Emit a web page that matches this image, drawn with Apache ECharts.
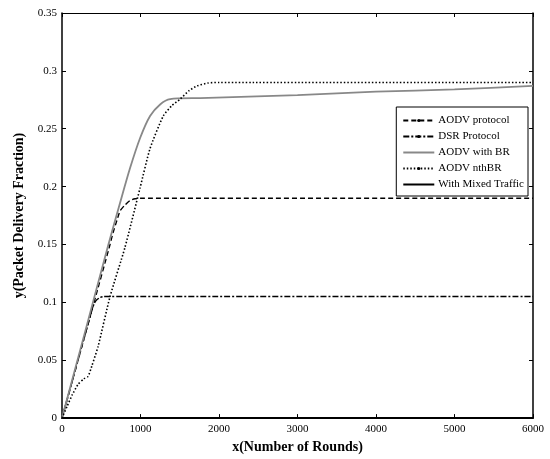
<!DOCTYPE html>
<html>
<head>
<meta charset="utf-8">
<script src="https://cdn.jsdelivr.net/npm/echarts@6/dist/echarts.min.js"></script>
<style>
  html, body { margin: 0; padding: 0; background: #fff; }
  #chart { width: 550px; height: 459px; }
</style>
</head>
<body>
<div id="chart"></div>
<script>
// values (x = rounds, y = packet delivery fraction)
const aodvX = [0, 200, 400, 600, 650, 700, 740, 800, 867, 930, 995, 6000]
const aodvY = [0, 0.049, 0.098, 0.147, 0.160, 0.171, 0.179, 0.184, 0.188, 0.1895, 0.19, 0.19]

const dsrX = [0, 200, 380, 410, 440, 480, 530, 600, 6000]
const dsrY = [0, 0.049, 0.093, 0.099, 0.102, 0.104, 0.105, 0.105, 0.105]

const brX = [0, 300, 587, 740, 867, 995, 1122, 1250, 1378, 1760, 3000, 4000, 5000, 6000]
const brY = [0, 0.076, 0.149, 0.186, 0.216, 0.242, 0.261, 0.271, 0.2756, 0.2765, 0.279, 0.282, 0.284, 0.287]

const nthX = [0, 64, 130, 204, 280, 332, 380, 460, 612, 800, 995, 1122, 1290, 1400, 1505, 1620, 1720, 1860, 2000, 6000]
const nthY = [0, 0.010, 0.020, 0.029, 0.034, 0.036, 0.045, 0.062, 0.105, 0.147, 0.199, 0.233, 0.261, 0.270, 0.2756, 0.283, 0.287, 0.2895, 0.29, 0.29]

const mixedX = []
const mixedY = []

const xTicks = { min: 0, max: 6000, interval: 1000 }
const yTicks = { min: 0, max: 0.35, interval: 0.05 }

const font = '"Liberation Serif", "DejaVu Serif", serif'
const pairs = (xs, ys) => xs.map((x, i) => [x, ys[i]])

const mkSeries = (name, xs, ys, color, type, width, smooth) => ({
  name,
  type: 'line',
  data: pairs(xs, ys),
  smooth: smooth || false,
  symbol: 'circle',
  symbolSize: 3,
  showSymbol: false,
  itemStyle: { color },
  lineStyle: { color, width, type },
  emphasis: { disabled: true },
  animation: false
})

const mychart = echarts.init(document.getElementById('chart'))

const series = [
  mkSeries('AODV protocol', aodvX, aodvY, '#000', [5, 3], 1.4, 0.2),
  mkSeries('DSR Protocol', dsrX, dsrY, '#000', [6, 2, 2, 2], 1.4, 0.2),
  mkSeries('AODV with BR', brX, brY, '#888', 'solid', 1.8, 0.25),
  mkSeries('AODV nthBR', nthX, nthY, '#000', [1.5, 2], 1.6, 0.2),
  mkSeries('With Mixed Traffic', mixedX, mixedY, '#000', 'solid', 1.4)
]

const noDot = { itemStyle: { opacity: 0 } }

const boxAxis = (extra) => Object.assign({
  type: 'value',
  axisLine: { show: true, onZero: false, lineStyle: { color: '#000', width: 1 } },
  axisTick: { show: true, inside: true, length: 4, lineStyle: { color: '#000' } },
  axisLabel: { show: false },
  splitLine: { show: false }
}, extra)

mychart.setOption({
  backgroundColor: '#fff',
  textStyle: { fontFamily: font },
  grid: { left: 62, right: 17, top: 13, bottom: 37 },
  legend: {
    right: 22,
    top: 107,
    orient: 'vertical',
    backgroundColor: '#fff',
    borderColor: '#000',
    borderWidth: 1,
    borderRadius: 0,
    padding: [8, 4, 6, 6],
    itemWidth: 31,
    itemHeight: 4,
    itemGap: 5,
    textStyle: { fontFamily: font, fontSize: 11, color: '#000', padding: [0, 0, 0, -1] },
    data: [
      { name: 'AODV protocol' },
      { name: 'DSR Protocol' },
      Object.assign({ name: 'AODV with BR' }, noDot),
      { name: 'AODV nthBR' },
      Object.assign({ name: 'With Mixed Traffic' }, noDot)
    ]
  },
  xAxis: [
    boxAxis({
      min: xTicks.min, max: xTicks.max, interval: xTicks.interval,
      position: 'bottom',
      axisLine: { show: true, onZero: false, lineStyle: { color: '#000', width: 2 } },
      axisLabel: { show: true, color: '#000', fontFamily: font, fontSize: 11, margin: 6,
        formatter: v => String(v) },
      name: 'x(Number of Rounds)',
      nameLocation: 'middle',
      nameGap: 18,
      nameTextStyle: { fontFamily: font, fontSize: 14, fontWeight: 'bold', color: '#000' }
    }),
    boxAxis({ min: xTicks.min, max: xTicks.max, interval: xTicks.interval, position: 'top' })
  ],
  yAxis: [
    boxAxis({
      min: yTicks.min, max: yTicks.max, interval: yTicks.interval,
      position: 'left',
      axisLine: { show: true, onZero: false, lineStyle: { color: '#000', width: 1.5 } },
      axisLabel: { show: true, color: '#000', fontFamily: font, fontSize: 11, margin: 5,
        formatter: v => String(+v.toFixed(2)) },
      name: 'y(Packet Delivery Fraction)',
      nameLocation: 'middle',
      nameGap: 33,
      nameTextStyle: { fontFamily: font, fontSize: 14, fontWeight: 'bold', color: '#000' }
    }),
    boxAxis({ min: yTicks.min, max: yTicks.max, interval: yTicks.interval, position: 'right',
      axisLine: { show: true, onZero: false, lineStyle: { color: '#000', width: 1.5 } } })
  ],
  series
})
</script>
</body>
</html>
